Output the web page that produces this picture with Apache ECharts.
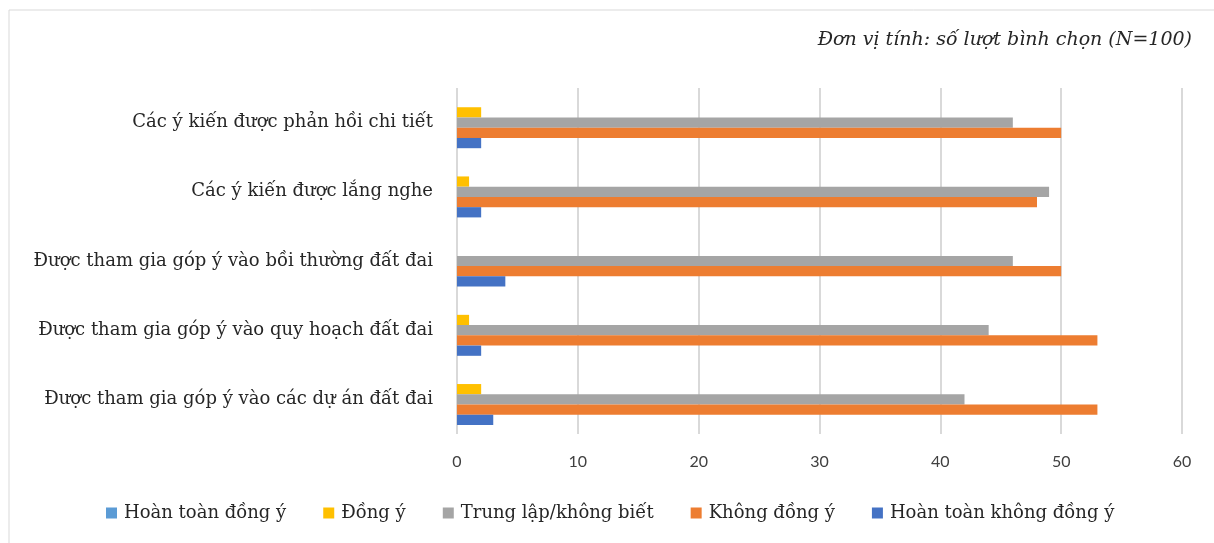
<!DOCTYPE html>
<html>
<head>
<meta charset="utf-8">
<script src="https://cdn.jsdelivr.net/npm/echarts@6/dist/echarts.min.js"></script>
<style>
  html, body { margin: 0; padding: 0; background: #fff; }
  #main { width: 1214px; height: 543px; }
</style>
</head>
<body>
<div id="main"></div>
<script>
const categories = [
  "Được tham gia góp ý vào các dự án đất đai",
  "Được tham gia góp ý vào quy hoạch đất đai",
  "Được tham gia góp ý vào bồi thường đất đai",
  "Các ý kiến được lắng nghe",
  "Các ý kiến được phản hồi chi tiết",
];
const seriesNames = [
  "Hoàn toàn đồng ý",
  "Đồng ý",
  "Trung lập/không biết",
  "Không đồng ý",
  "Hoàn toàn không đồng ý",
];
const hoanToanDongY = [0, 0, 0, 0, 0];
const dongY = [2, 1, 0, 1, 2];
const trungLap = [42, 44, 46, 49, 46];
const khongDongY = [53, 53, 50, 48, 50];
const hoanToanKhongDongY = [3, 2, 4, 2, 2];
const xTicks = [0, 10, 20, 30, 40, 50, 60];

const colors = ["#5b9bd5", "#ffc000", "#a5a5a5", "#ed7d31", "#4472c4"];
const values = [hoanToanDongY, dongY, trungLap, khongDongY, hoanToanKhongDongY];

const chart = echarts.init(document.getElementById("main"));

const option = {
  animation: false,
  color: colors,
  graphic: [
    {
      type: "rect",
      shape: { x: 9, y: 10, width: 1400, height: 700 },
      style: { fill: "none", stroke: "#d9d9d9", lineWidth: 1 },
      silent: true,
    },
    {
      type: "text",
      right: 22,
      top: 31,
      style: {
        text: "Đơn vị tính: số lượt bình chọn (N=100)",
        font: "italic 19px 'DejaVu Serif'",
        fill: "#262626",
      },
    },
  ],
  grid: {
    left: 457,
    right: 32,
    top: 88,
    bottom: 109,
  },
  xAxis: {
    type: "value",
    min: xTicks[0],
    max: xTicks[xTicks.length - 1],
    interval: 10,
    axisLine: { show: false },
    axisTick: { show: false },
    axisLabel: {
      color: "#404040",
      fontFamily: "Lato",
      fontSize: 16,
      margin: 20,
    },
    splitLine: { lineStyle: { color: "#d9d9d9", width: 2 } },
  },
  yAxis: {
    type: "category",
    data: categories,
    axisLine: { show: false },
    axisTick: { show: false },
    axisLabel: {
      color: "#262626",
      fontFamily: "DejaVu Serif",
      fontSize: 18,
      margin: 24,
    },
  },
  legend: {
    left: 106,
    top: 504,
    padding: 0,
    itemWidth: 11,
    itemHeight: 11,
    itemGap: 37,
    icon: "rect",
    textStyle: {
      color: "#262626",
      fontFamily: "DejaVu Serif",
      fontSize: 18,
      padding: [0, 0, 0, 2],
    },
    data: seriesNames,
  },
  series: seriesNames.map((name, i) => ({
    name: name,
    type: "bar",
    data: values[i],
    barGap: "0%",
    barCategoryGap: "26%",
  })),
};

chart.setOption(option);
window.onresize = function () {
  chart.resize();
};
</script>
</body>
</html>
